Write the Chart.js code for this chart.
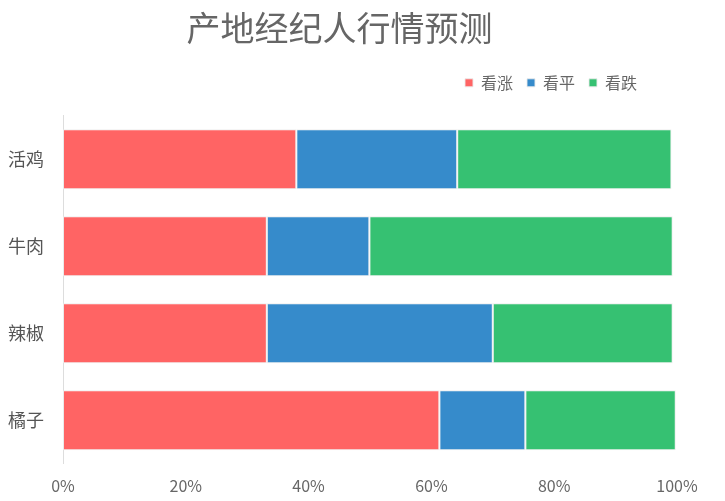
<!DOCTYPE html>
<html>
<head>
<meta charset="utf-8">
<script src="https://cdn.jsdelivr.net/npm/chart.js@4/dist/chart.umd.min.js"></script>
<style>
  html, body { margin: 0; padding: 0; background: #fff; }
  #wrap { width: 725px; height: 501px; }
</style>
</head>
<body>
<div id="wrap"><canvas id="chart" width="725" height="501"></canvas></div>
<script>
// categories and series (percent)
const categories = ["活鸡", "牛肉", "辣椒", "橘子"];
const seriesNames = ["看涨", "看平", "看跌"];
const riseValues = [38.0, 33.2, 33.2, 61.3];
const flatValues = [26.2, 16.7, 36.8, 14.0];
const fallValues = [34.9, 49.4, 29.3, 24.5];
const xTicks = [0, 20, 40, 60, 80, 100];

const colors = ["#FF6464", "#368BCB", "#36C172"];

// legend tweaks: extra gap under it, and pull it a bit left
const legendTweak = {
  id: "legendTweak",
  beforeInit(chart) {
    const fit = chart.legend.fit;
    chart.legend.fit = function () {
      fit.call(this);
      this.height += 15;
    };
  },
  afterLayout(chart) {
    chart.legend.left -= 26;
    chart.legend.right -= 26;
  }
};

document.addEventListener("DOMContentLoaded", () => {
  Chart.defaults.font.family = "'Noto Sans CJK SC', 'Noto Sans', sans-serif";
  const ctx = document.getElementById("chart").getContext("2d");
  new Chart(ctx, {
    type: "bar",
    data: {
      labels: categories,
      datasets: [riseValues, flatValues, fallValues].map((vals, i) => ({
        label: seriesNames[i],
        data: vals,
        backgroundColor: colors[i],
        borderColor: "rgba(235,235,235,0.9)",
        borderWidth: 1,
        borderSkipped: false,
        categoryPercentage: 0.69,
        barPercentage: 1
      }))
    },
    options: {
      indexAxis: "y",
      responsive: false,
      animation: false,
      layout: { padding: { top: 8, left: 2, right: 48, bottom: 0 } },
      plugins: {
        title: {
          display: true,
          text: "产地经纪人行情预测",
          color: "#666",
          font: { size: 34, weight: "normal" },
          padding: { top: 0, bottom: 12 }
        },
        legend: {
          align: "end",
          labels: {
            usePointStyle: true,
            pointStyle: "rect",
            boxWidth: 8,
            boxHeight: 8,
            color: "#666",
            font: { size: 16 },
            padding: 14
          }
        },
        tooltip: { enabled: false }
      },
      scales: {
        x: {
          stacked: true,
          min: 0,
          max: 100,
          afterBuildTicks: axis => { axis.ticks = xTicks.map(v => ({ value: v })); },
          ticks: { color: "#666", font: { size: 16 }, padding: 5, callback: v => v + "%" },
          grid: { display: false },
          border: { display: false }
        },
        y: {
          stacked: true,
          afterFit: axis => { axis.width = 61; },
          ticks: { color: "#555", font: { size: 18 }, padding: 11 },
          grid: { display: false },
          border: { display: true, color: "#ddd", width: 1 }
        }
      }
    },
    plugins: [legendTweak]
  });
});
</script>
</body>
</html>
